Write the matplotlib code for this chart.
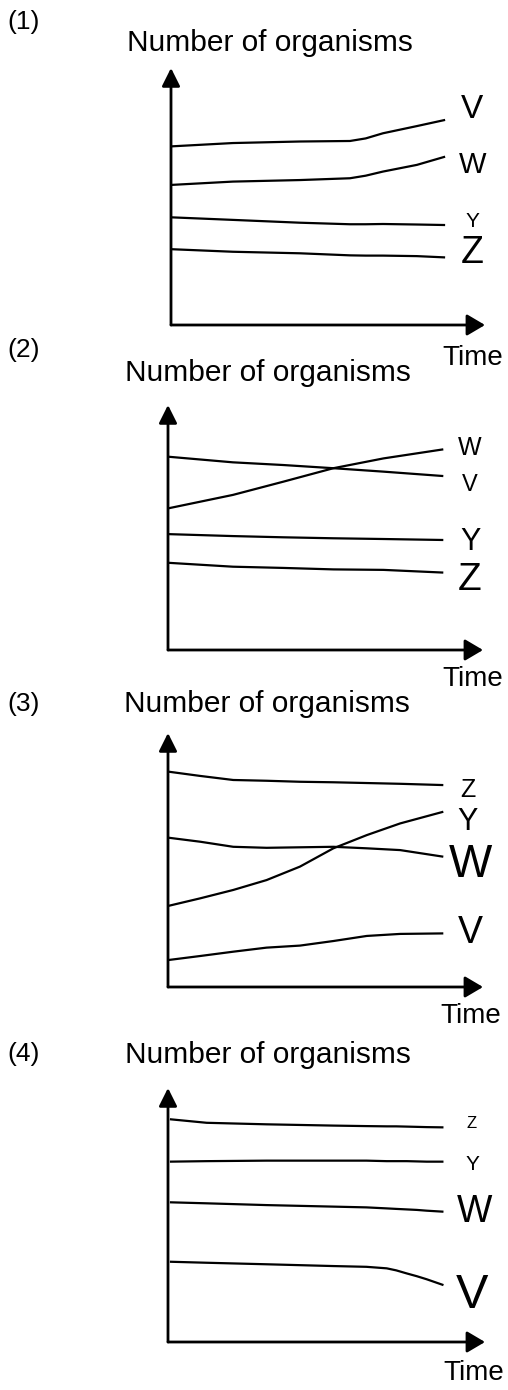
import matplotlib
matplotlib.use("Agg")
import matplotlib.pyplot as plt
from matplotlib import font_manager

# figure size in pixels (dpi 100)
W_PX, H_PX = 508, 1390

font_names = {f.name for f in font_manager.fontManager.ttflist}
MAIN_FONT = "Liberation Sans" if "Liberation Sans" in font_names else "DejaVu Sans"
NARROW_FONT = "Liberation Sans Narrow" if "Liberation Sans Narrow" in font_names else MAIN_FONT
plt.rcParams["font.family"] = [MAIN_FONT, "DejaVu Sans"]

# ---- data (x = time, y = number of organisms, both in % of axis length) ----
panel_titles = ["(1)", "(2)", "(3)", "(4)"]
y_label = "Number of organisms"
x_label = "Time"

# panel 1
time_1 = [0, 19.7, 41.1, 57.0, 62.0, 67.5, 78.3, 87.3]
v_1 = [69.5, 70.8, 71.4, 71.6, 72.6, 74.6, 77.4, 79.8]
w_1 = [54.5, 55.8, 56.4, 57.1, 58.1, 59.7, 62.3, 65.5]
y_1 = [41.9, 40.9, 39.8, 39.2, 39.2, 39.3, 39.1, 38.9]
z_1 = [29.5, 28.5, 27.9, 27.1, 27.0, 27.0, 26.8, 26.3]

# panel 2
time_2 = [0, 20.6, 36.6, 52.5, 68.4, 87.4]
w_2 = [57.8, 63.3, 68.7, 74.2, 78.2, 81.9]
v_2 = [78.9, 76.6, 75.5, 74.2, 72.8, 71.0]
y_2 = [47.3, 46.5, 46.0, 45.6, 45.3, 44.9]
z_2 = [35.6, 34.0, 33.5, 32.9, 32.7, 31.6]

# panel 3
time_3 = [0, 10.2, 20.7, 31.3, 41.9, 52.5, 63.1, 73.7, 87.4]
z_3 = [84.8, 83.1, 81.5, 81.2, 80.8, 80.6, 80.3, 80.0, 79.5]
y_3 = [31.9, 34.9, 38.2, 42.1, 47.4, 54.6, 59.8, 64.4, 69.0]
w_3 = [58.8, 57.2, 55.2, 54.8, 55.0, 55.2, 54.6, 53.9, 51.3]
v_3 = [10.6, 12.2, 13.9, 15.5, 16.3, 18.1, 20.1, 20.9, 21.1]

# panel 4
time_4 = [0.6, 12.2, 31.1, 52.1, 62.6, 69.0, 72.0, 75.3, 78.5, 81.6, 86.9]
z_4 = [87.7, 86.3, 85.7, 85.2, 85.0, 84.9, 84.9, 84.8, 84.7, 84.6, 84.5]
y_4 = [71.0, 71.2, 71.4, 71.4, 71.4, 71.2, 71.2, 71.2, 71.1, 71.0, 71.0]
w_4 = [55.0, 54.6, 53.9, 53.3, 53.0, 52.6, 52.4, 52.2, 52.0, 51.7, 51.3]
v_4 = [31.6, 31.2, 30.6, 29.9, 29.6, 29.0, 28.2, 27.0, 25.9, 24.7, 22.4]

# curve labels: (name, x, y, fontsize)
labels_1 = [("V", 95.9, 83.7, 24), ("W", 95.9, 62.3, 21), ("Y", 95.9, 40.1, 15), ("Z", 95.9, 28.0, 27)]
labels_2 = [("W", 95.9, 82.4, 18), ("V", 95.9, 67.3, 17), ("Y", 95.9, 44.1, 22), ("Z", 95.9, 28.6, 28)]
labels_3 = [("Z", 95.2, 77.6, 18), ("Y", 95.2, 65.0, 22), ("W", 95.9, 48.0, 33), ("V", 95.9, 21.3, 27)]
labels_4 = [("Z", 95.9, 86.2, 12), ("Y", 95.9, 69.7, 15), ("W", 96.8, 51.2, 27), ("V", 95.9, 18.5, 35)]

panels = [
    (time_1, [v_1, w_1, y_1, z_1], labels_1),
    (time_2, [w_2, v_2, y_2, z_2], labels_2),
    (time_3, [z_3, y_3, w_3, v_3], labels_3),
    (time_4, [z_4, y_4, w_4, v_4], labels_4),
]

# ---- layout (pixels): y-axis x, x-arrow tip, x-axis y, y-arrow tip ----
boxes = [(171, 485, 325, 68), (168, 483, 650, 405), (168, 483, 987, 733), (168, 485, 1342, 1088)]
title_pos = [(7, 22), (7, 350), (7, 704), (7, 1054)]
ylabel_pos = [(270, 43), (268, 373), (267, 704), (268, 1055)]
xlabel_pos = [(473, 358), (473, 679), (471, 1016), (474, 1373)]


def fxy(px, py):
    return px / W_PX, 1 - py / H_PX


fig = plt.figure(figsize=(W_PX / 100, H_PX / 100), dpi=100)

for i, (t, series, labels) in enumerate(panels):
    x0, xr, yb, yt = boxes[i]
    ax = fig.add_axes([x0 / W_PX, 1 - yb / H_PX, (xr - x0) / W_PX, (yb - yt) / H_PX])
    ax.set_xlim(0, 100)
    ax.set_ylim(0, 100)
    ax.axis("off")

    # axes drawn as arrows
    ax.annotate("", xy=(1, 0), xytext=(0, 0), xycoords="axes fraction",
                arrowprops=dict(arrowstyle="-|>,head_length=1.1,head_width=0.65",
                                color="k", lw=2.0, shrinkA=0, shrinkB=0),
                annotation_clip=False)
    ax.annotate("", xy=(0, 1), xytext=(0, 0), xycoords="axes fraction",
                arrowprops=dict(arrowstyle="-|>,head_length=1.1,head_width=0.55",
                                color="k", lw=2.0, shrinkA=0, shrinkB=0),
                annotation_clip=False)

    for s in series:
        ax.plot(t, s, color="k", lw=1.6, solid_capstyle="butt", solid_joinstyle="round")

    for name, lx, ly, size in labels:
        ax.text(lx, ly, name, fontsize=size, family=[NARROW_FONT, "DejaVu Sans"],
                ha="center", va="center", clip_on=False)

    fig.text(*fxy(*title_pos[i]), panel_titles[i], fontsize=19, ha="left", va="center")
    fig.text(*fxy(*ylabel_pos[i]), y_label, fontsize=21.5, ha="center", va="center")
    fig.text(*fxy(*xlabel_pos[i]), x_label, fontsize=20, ha="center", va="center")

fig.savefig("out.png", dpi=100, facecolor="white")
